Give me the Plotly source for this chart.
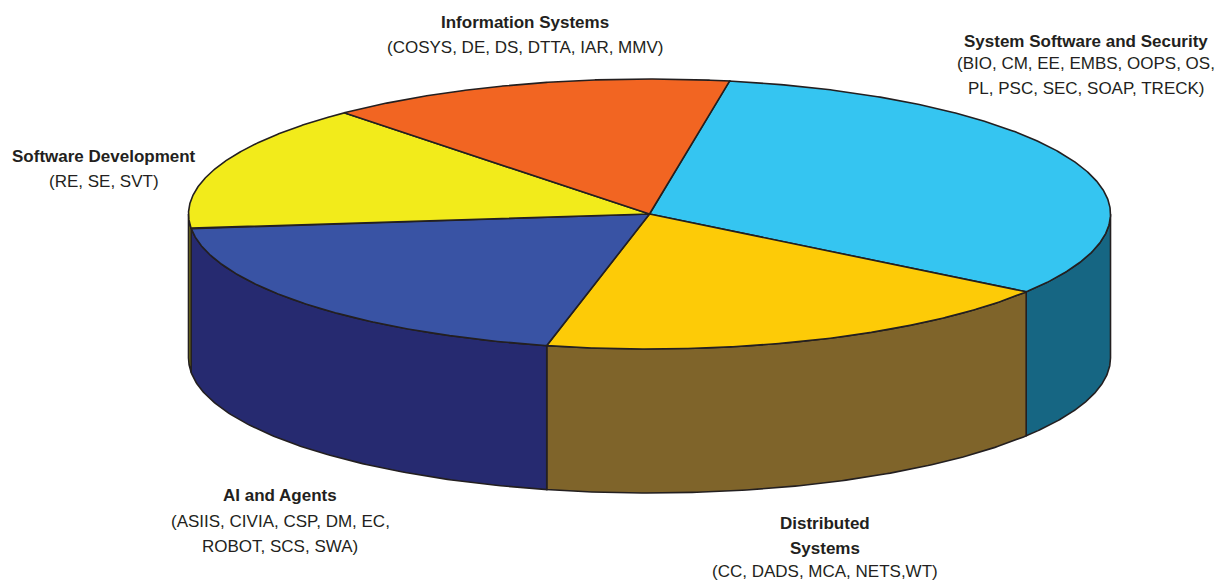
import numpy as np
import plotly.graph_objects as go

# ---- data ----
categories = ["System Software and Security", "Distributed Systems", "AI and Agents",
              "Software Development", "Information Systems"]
shares = [32.0, 18.8, 19.7, 15.2, 14.3]          # percent of the pie
top_colors = ["#35C5F1", "#FDCB07", "#3953A4", "#F2EB1B", "#F26522"]
side_colors = ["#166683", "#7F642A", "#262A70", "#7A7619", "#8A3A12"]

label_titles = [["System Software and Security"], ["Distributed", "Systems"], ["AI and Agents"],
                ["Software Development"], ["Information Systems"]]
label_details = [["(BIO, CM, EE, EMBS, OOPS, OS,", "PL, PSC, SEC, SOAP, TRECK)"],
                 ["(CC, DADS, MCA, NETS,WT)"],
                 ["(ASIIS, CIVIA, CSP, DM, EC,", "ROBOT, SCS, SWA)"],
                 ["(RE, SE, SVT)"],
                 ["(COSYS, DE, DS, DTTA, IAR, MMV)"]]

# ---- layout geometry (page pixels) ----
CX, CY, A, B, DEPTH = 649.5, 214.0, 461.0, 135.0, 144.0
START = 80.0
EDGE = "#231F20"
label_pos = [(1086, [41, 63, 88]), (825, [523, 548, 571]), (280, [495, 521, 546]),
             (104, [156, 181]), (525, [22, 47])]
PAGE_MARGIN = 8  # default body margin of the html page


def pt(t_deg, dy=0.0):
    t = np.radians(t_deg)
    return CX + A * np.cos(t), CY - B * np.sin(t) + dy


fig = go.Figure()
total = sum(shares)
bounds = []
cur = START
for s in shares:
    sweep = 360.0 * s / total
    bounds.append((cur - sweep, cur))
    cur -= sweep

# side walls (front half: parametric angle in [-180, 0])
for (lo, hi), col in zip(bounds, side_colors):
    for shift in (-360, 0, 360):
        l, h = lo + shift, hi + shift
        a0, a1 = max(l, -180.0), min(h, 0.0)
        if a1 - a0 > 1e-6:
            ts = np.linspace(a0, a1, 120)
            xt, yt = pt(ts)
            xb, yb = pt(ts[::-1], DEPTH)
            xs = np.concatenate([xt, xb, xt[:1]])
            ys = np.concatenate([yt, yb, yt[:1]])
            fig.add_trace(go.Scatter(x=xs, y=ys, mode="lines", fill="toself",
                                     fillcolor=col, line=dict(color=EDGE, width=1.6),
                                     hoverinfo="skip", showlegend=False))

# top faces
for (lo, hi), col, name in zip(bounds, top_colors, categories):
    ts = np.linspace(hi, lo, 300)
    xa, ya = pt(ts)
    xs = np.concatenate([[CX], xa, [CX]])
    ys = np.concatenate([[CY], ya, [CY]])
    fig.add_trace(go.Scatter(x=xs, y=ys, mode="lines", fill="toself",
                             fillcolor=col, line=dict(color=EDGE, width=1.6),
                             name=name, hoverinfo="name", showlegend=False))

# labels
anns = []
for titles, details, (lx, ys) in zip(label_titles, label_details, label_pos):
    lines = [("<b>%s</b>" % t) for t in titles] + details
    for txt, yy in zip(lines, ys):
        anns.append(dict(x=lx, y=yy, xref="x", yref="y", text=txt, showarrow=False,
                         xanchor="center", yanchor="middle",
                         font=dict(family="Liberation Sans, Arial, sans-serif",
                                   size=17, color=EDGE)))

W, H = 1225, 582
fig.update_layout(
    width=W - PAGE_MARGIN, height=H - PAGE_MARGIN, autosize=False,
    margin=dict(l=0, r=0, t=0, b=0, pad=0),
    paper_bgcolor="white", plot_bgcolor="white",
    xaxis=dict(range=[PAGE_MARGIN, W], visible=False, fixedrange=True),
    yaxis=dict(range=[H, PAGE_MARGIN], visible=False, fixedrange=True),
    annotations=anns,
)

fig.write_html("out.html")
